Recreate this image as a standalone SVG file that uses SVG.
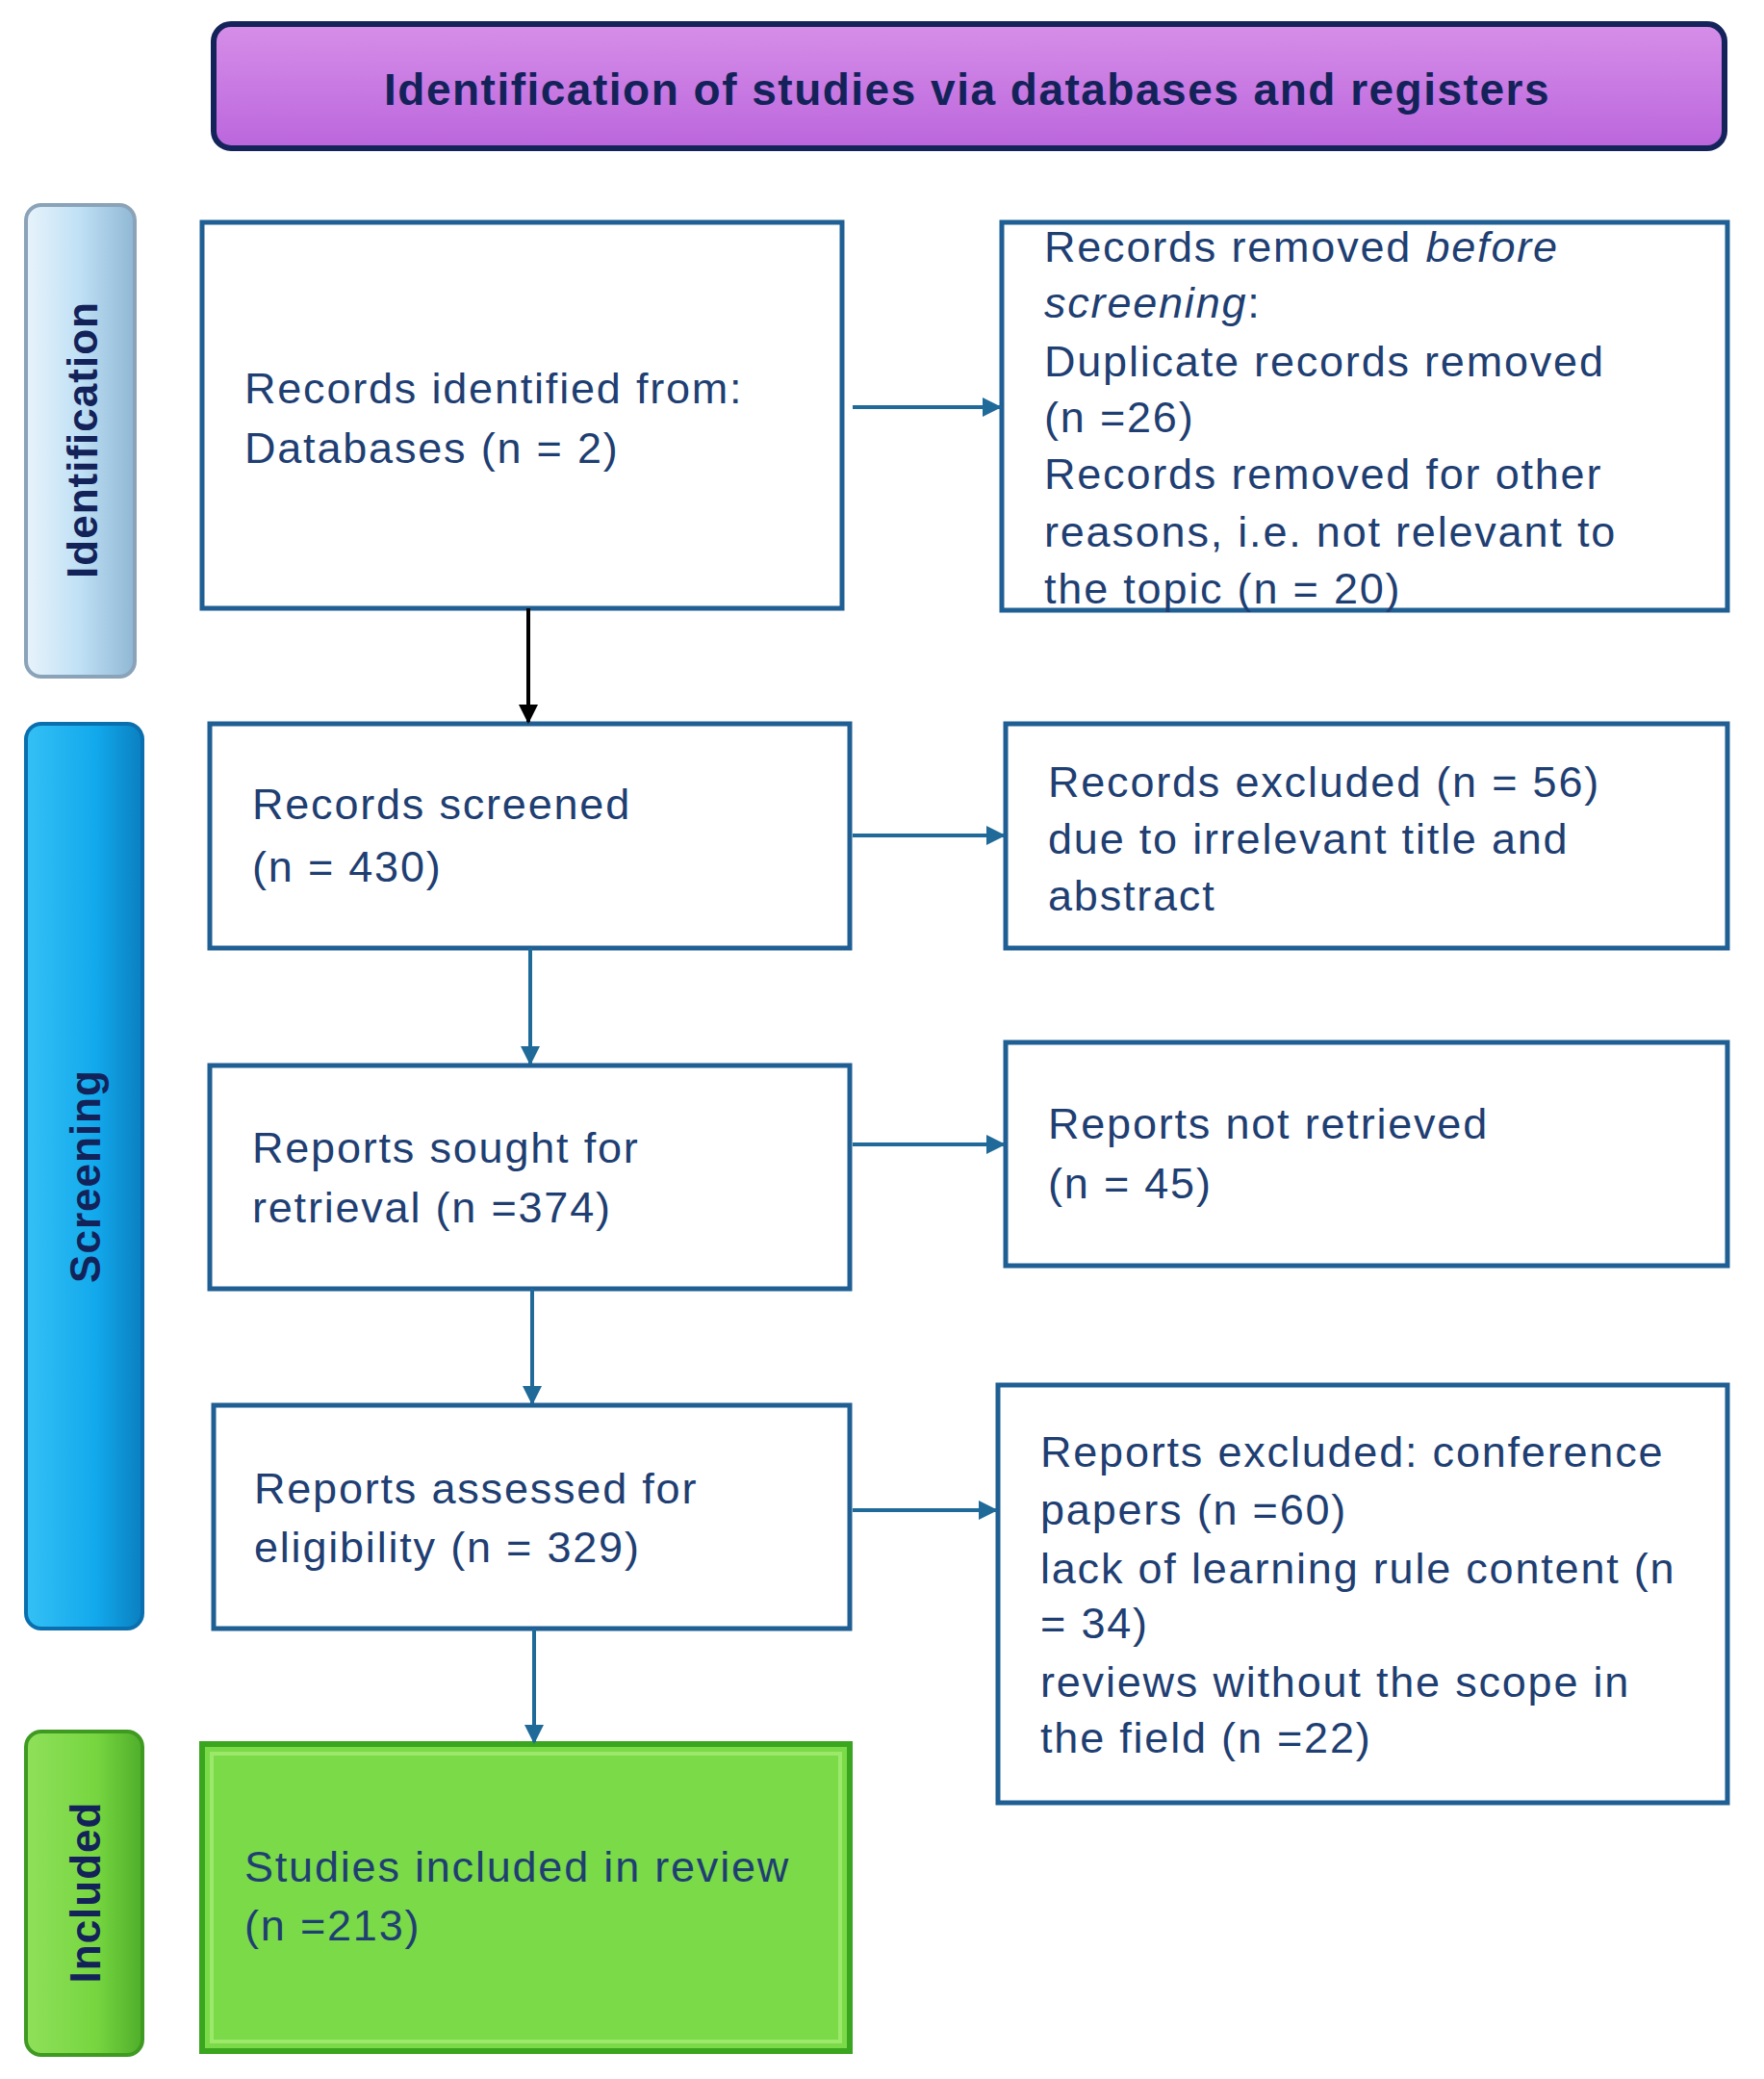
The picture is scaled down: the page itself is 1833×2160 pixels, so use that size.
<svg xmlns="http://www.w3.org/2000/svg" width="1833" height="2160" viewBox="0 0 1833 2160">
<defs>
<style>
.box{fill:#fff;stroke:#1f5f93;stroke-width:5}
.t{font-family:"Liberation Sans",Arial,sans-serif;font-size:45px;letter-spacing:1.8px;fill:#1f3f73}
.tab{font-family:"Liberation Sans",Arial,sans-serif;font-size:44px;font-weight:bold;letter-spacing:1px;fill:#13235a;text-anchor:middle}
.c{stroke:#1f6a99;stroke-width:4;fill:none}
</style>
<marker id="a" viewBox="0 0 10 10" refX="9" refY="5" markerWidth="5" markerHeight="5" orient="auto"><path d="M0,0L10,5L0,10z" fill="#1f6a99"/></marker>
<marker id="ab" viewBox="0 0 10 10" refX="9" refY="5" markerWidth="5" markerHeight="5" orient="auto"><path d="M0,0L10,5L0,10z" fill="#000"/></marker>
<linearGradient id="gp" x1="0" y1="0" x2="0" y2="1"><stop offset="0" stop-color="#d68ee8"/><stop offset="1" stop-color="#bb66dd"/></linearGradient>
<linearGradient id="gi" x1="0" y1="0" x2="1" y2="0"><stop offset="0" stop-color="#e8f3fb"/><stop offset="0.5" stop-color="#bfe0f5"/><stop offset="1" stop-color="#8fb7d4"/></linearGradient>
<linearGradient id="gs" x1="0" y1="0" x2="1" y2="0"><stop offset="0" stop-color="#34c0f5"/><stop offset="0.6" stop-color="#12a9ec"/><stop offset="1" stop-color="#0a7fc0"/></linearGradient>
<linearGradient id="gg" x1="0" y1="0" x2="1" y2="0"><stop offset="0" stop-color="#8fe05a"/><stop offset="0.6" stop-color="#77d640"/><stop offset="1" stop-color="#4fae2a"/></linearGradient>
</defs>
<rect width="1833" height="2160" fill="#fff"/>
<g id="header"><rect x="222" y="25" width="1570" height="129" rx="18" fill="url(#gp)" stroke="#14235a" stroke-width="6"/>
<text x="1005" y="109" font-family="Liberation Sans,Arial,sans-serif" font-size="46" font-weight="bold" letter-spacing="1.5" fill="#13235a" text-anchor="middle">Identification of studies via databases and registers</text></g>
<g id="tab-identification"><rect x="27" y="213" width="113" height="490" rx="16" fill="url(#gi)" stroke="#8aa3b8" stroke-width="4"/>
<text class="tab" transform="translate(101,457) rotate(-90)">Identification</text></g>
<g id="tab-screening"><rect x="27" y="752" width="121" height="940" rx="16" fill="url(#gs)" stroke="#0a6fae" stroke-width="4"/>
<text class="tab" transform="translate(104,1222) rotate(-90)">Screening</text></g>
<g id="tab-included"><rect x="27" y="1799" width="121" height="336" rx="16" fill="url(#gg)" stroke="#3f9a22" stroke-width="4"/>
<text class="tab" transform="translate(104,1966) rotate(-90)">Included</text></g>
<g id="n1"><rect class="box" x="210" y="231" width="665" height="401"/>
<text class="t" x="254" y="419">Records identified from:</text><text class="t" x="254" y="481">Databases (n = 2)</text></g>
<g id="n2"><rect class="box" x="1041" y="231" width="754" height="403"/>
<text class="t" x="1085" y="272">Records removed <tspan font-style="italic">before</tspan></text>
<text class="t" x="1085" y="330"><tspan font-style="italic">screening</tspan>:</text>
<text class="t" x="1085" y="391">Duplicate records removed</text>
<text class="t" x="1085" y="449">(n =26)</text>
<text class="t" x="1085" y="508">Records removed for other</text>
<text class="t" x="1085" y="568">reasons, i.e. not relevant to</text>
<text class="t" x="1085" y="627">the topic (n = 20)</text></g>
<g id="n3"><rect class="box" x="218" y="752" width="665" height="233"/>
<text class="t" x="262" y="851">Records screened</text><text class="t" x="262" y="916">(n = 430)</text></g>
<g id="n4"><rect class="box" x="1045" y="752" width="750" height="233"/>
<text class="t" x="1089" y="828">Records excluded (n = 56)</text><text class="t" x="1089" y="887">due to irrelevant title and</text><text class="t" x="1089" y="946">abstract</text></g>
<g id="n5"><rect class="box" x="218" y="1107" width="665" height="232"/>
<text class="t" x="262" y="1208">Reports sought for</text><text class="t" x="262" y="1270">retrieval (n =374)</text></g>
<g id="n6"><rect class="box" x="1045" y="1083" width="750" height="232"/>
<text class="t" x="1089" y="1183">Reports not retrieved</text><text class="t" x="1089" y="1245">(n = 45)</text></g>
<g id="n7"><rect class="box" x="222" y="1460" width="661" height="232"/>
<text class="t" x="264" y="1562">Reports assessed for</text><text class="t" x="264" y="1623">eligibility (n = 329)</text></g>
<g id="n8"><rect class="box" x="1037" y="1439" width="758" height="434"/>
<text class="t" x="1081" y="1524">Reports excluded: conference</text>
<text class="t" x="1081" y="1584">papers (n =60)</text>
<text class="t" x="1081" y="1645">lack of learning rule content (n</text>
<text class="t" x="1081" y="1702">= 34)</text>
<text class="t" x="1081" y="1763">reviews without the scope in</text>
<text class="t" x="1081" y="1821">the field (n =22)</text></g>
<g id="n9"><rect x="210" y="1812" width="673" height="319" fill="#7ada47" stroke="#3aa51e" stroke-width="6"/>
<rect x="220" y="1822" width="653" height="299" fill="none" stroke="#9be86b" stroke-width="4"/>
<text class="t" x="254" y="1955">Studies included in review</text><text class="t" x="254" y="2016">(n =213)</text></g>
<g id="connectors">
<line x1="549" y1="632" x2="549" y2="750" stroke="#000" stroke-width="4" marker-end="url(#ab)"/>
<line class="c" x1="551" y1="985" x2="551" y2="1105" marker-end="url(#a)"/>
<line class="c" x1="553" y1="1339" x2="553" y2="1458" marker-end="url(#a)"/>
<line class="c" x1="555" y1="1692" x2="555" y2="1810" marker-end="url(#a)"/>
<line class="c" x1="886" y1="423" x2="1039" y2="423" marker-end="url(#a)"/>
<line class="c" x1="886" y1="868" x2="1043" y2="868" marker-end="url(#a)"/>
<line class="c" x1="886" y1="1189" x2="1043" y2="1189" marker-end="url(#a)"/>
<line class="c" x1="886" y1="1569" x2="1035" y2="1569" marker-end="url(#a)"/>
</g>
</svg>
